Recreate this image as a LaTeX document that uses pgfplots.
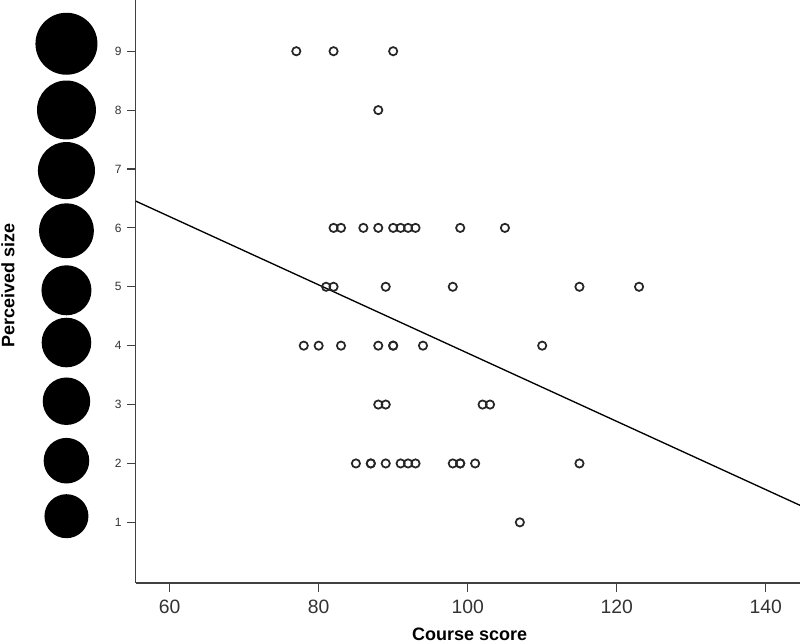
\documentclass[border=0pt]{standalone}
\usepackage{fontspec}
\setmainfont{Liberation Sans}
\usepackage{pgfplots}
\pgfplotsset{compat=1.18}
\newcommand{\cl}[3]{\makebox[46.5pt][c]{\raisebox{#2}[0pt][0pt]{$\vcenter{\hbox{\tikz\fill[black] (0,0) circle[radius=#1];}}$}}\hspace{13pt}#3}
\begin{document}
\begin{tikzpicture}
\begin{axis}[name=ax, scale only axis, width=498.2pt, height=437.25pt,
  xmin=55.45, xmax=144.6, ymin=-0.03, ymax=9.87,
  axis x line=bottom, axis y line=left,
  axis line style={-, black!75, line width=0.8pt},
  every tick/.style={black!75, line width=0.9pt},
  tick align=outside, major tick length=6.5pt,
  xtick={60,80,100,120,140}, ytick={1,2,3,4,5,6,7,8,9},
  /pgf/number format/assume math mode=true,
  yticklabels={\cl{16.5pt}{5.45pt}{1},\cl{17.1pt}{2.95pt}{2},\cl{17.8pt}{3.35pt}{3},\cl{18.6pt}{3.2pt}{4},\cl{18.75pt}{-1.83pt}{5},\cl{20.6pt}{-1.3pt}{6},\cl{21.4pt}{-0.33pt}{7},\cl{22.1pt}{0.95pt}{8},\cl{23.25pt}{6.45pt}{9}},
  xticklabel style={font=\fontsize{14.5pt}{16pt}\selectfont, text=black!80, inner sep=0pt, yshift=-6.4pt},
  yticklabel style={font=\fontsize{9pt}{10pt}\selectfont, text=black!80, inner sep=0pt, xshift=-4pt},
  xlabel={Course score}, ylabel={Perceived size},
  xlabel style={font=\bfseries\fontsize{13.5pt}{15pt}\selectfont, at={(axis description cs:0.5025,-0.0875)}, anchor=center},
  ylabel style={font=\bfseries\fontsize{13.5pt}{15pt}\selectfont, at={(axis description cs:-0.1923,0.511)}, anchor=center},
]
\addplot[black, line width=1pt] coordinates {(55.45,6.455) (144.6,1.289)};
\addplot[only marks, mark=o, mark size=3.1pt, mark options={line width=1.3pt, draw=black!85}] coordinates {
(77,9) (82,9) (90,9)
(88,8)
(82,6) (83,6) (86,6) (88,6) (90,6) (91,6) (92,6) (93,6) (99,6) (105,6)
(81,5) (82,5) (89,5) (98,5) (115,5) (123,5)
(78,4) (80,4) (83,4) (88,4) (90,4) (90,4) (94,4) (110,4)
(88,3) (89,3) (102,3) (103,3)
(85,2) (87,2) (87,2) (89,2) (91,2) (92,2) (93,2) (98,2) (99,2) (99,2) (101,2) (115,2)
(107,1)
};
\end{axis}
\pgfresetboundingbox
\path ([shift={(-101.8pt,-45.75pt)}]ax.south west) rectangle (ax.north east);
\end{tikzpicture}
\end{document}
